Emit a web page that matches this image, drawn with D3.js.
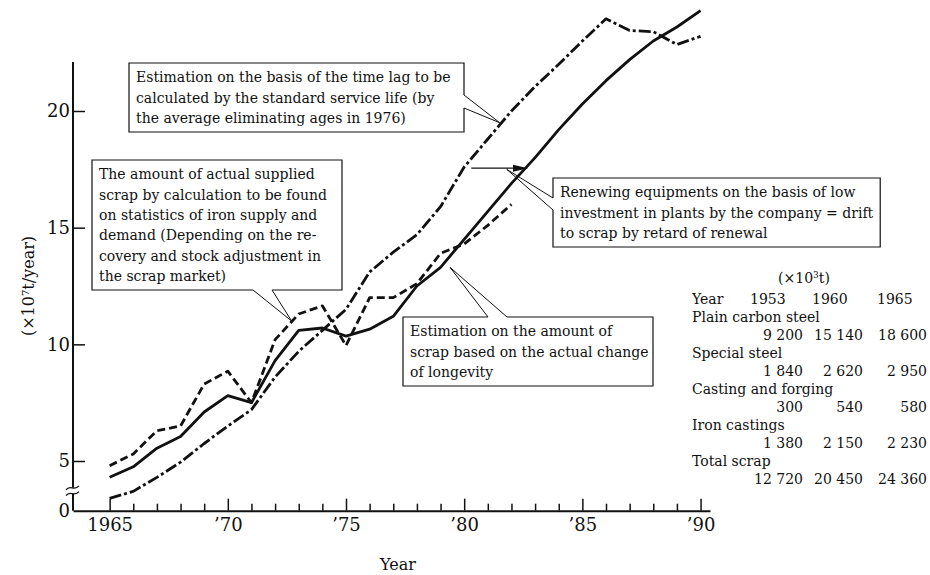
<!DOCTYPE html>
<html>
<head>
<meta charset="utf-8">
<script src="https://cdn.jsdelivr.net/npm/d3@7"></script>
<style>
  body { margin: 0; background: #fff; }
  svg { display: block; }
  text { font-family: "DejaVu Serif", serif; fill: #111; }
</style>
</head>
<body>
<svg id="chart" width="930" height="575"></svg>
<script>
document.addEventListener("DOMContentLoaded", function() {

    // Data (x 10^7 t / year)
    const years = [1965, 1966, 1967, 1968, 1969, 1970, 1971, 1972, 1973, 1974, 1975, 1976, 1977,
                   1978, 1979, 1980, 1981, 1982, 1983, 1984, 1985, 1986, 1987, 1988, 1989, 1990];
    // solid: actual change of longevity
    const longevity = [4.3, 4.75, 5.55, 6.05, 7.1, 7.8, 7.5, 9.3, 10.6, 10.7, 10.35, 10.65, 11.2,
                       12.5, 13.3, 14.5, 15.7, 16.9, 18.0, 19.2, 20.3, 21.3, 22.2, 23.0, 23.6, 24.3];
    // dash-dot: standard service life
    const serviceLife = [3.4, 3.7, 4.3, 4.95, 5.75, 6.5, 7.2, 8.6, 9.7, 10.6, 11.5, 13.1, 13.95,
                         14.7, 15.9, 17.6, 18.8, 20.0, 21.05, 22.0, 23.0, 23.95, 23.45, 23.4, 22.85, 23.2];
    // dashed: actual supplied scrap (1965-1982)
    const supplied = [4.8, 5.3, 6.3, 6.5, 8.3, 8.85, 7.5, 10.2, 11.3, 11.65, 9.95, 12.0, 12.0,
                      12.6, 13.9, 14.3, 15.1, 16.0];

    const yTicks = [5, 10, 15, 20];
    const xMajor = [1965, 1970, 1975, 1980, 1985, 1990];
    const xMajorLabels = ["1965", "\u201970", "\u201975", "\u201980", "\u201985", "\u201990"];

    const tableYears = ["1953", "1960", "1965"];
    const tableRows = ["Plain carbon steel", "Special steel", "Casting and forging", "Iron castings", "Total scrap"];
    const tableValues = [
        ["9 200", "15 140", "18 600"],
        ["1 840", "2 620", "2 950"],
        ["300", "540", "580"],
        ["1 380", "2 150", "2 230"],
        ["12 720", "20 450", "24 360"]
    ];

    // Display settings
    const yFloor = 2.87;          // value at the broken axis bottom ("0")
    const yTop = 22.1;
    const lineWidth = 2.8;
    const fontSize = 14;

    const svg = d3.select("#chart");

    ////////// Scales //////////
    const x = d3.scaleLinear().domain([1963.45, 1990.4]).range([73, 710]);
    const y = d3.scaleLinear().domain([yFloor, yTop]).range([510.7, 62]);

    ////////// Axes //////////
    const xAxis = d3.axisBottom(x)
        .tickValues(d3.range(1965, 1991))
        .tickSizeInner(-7)
        .tickSizeOuter(0)
        .tickPadding(8)
        .tickFormat(d => {
            const i = xMajor.indexOf(d);
            return i < 0 ? "" : xMajorLabels[i];
        });

    const gx = svg.append("g")
        .attr("transform", `translate(0,${y(yFloor)})`)
        .call(xAxis);
    gx.attr("font-family", null).attr("font-size", null);
    gx.select(".domain").attr("stroke-width", 2).attr("stroke", "#111");
    gx.selectAll(".tick line").attr("stroke", "#111").attr("stroke-width", 1.5);
    gx.selectAll(".tick line").filter(d => xMajor.includes(d)).attr("y2", -12);
    gx.selectAll(".tick text").style("font-size", "18px");

    const yAxis = d3.axisLeft(y)
        .tickValues([yFloor].concat(yTicks))
        .tickSizeInner(-12)
        .tickSizeOuter(0)
        .tickPadding(3)
        .tickFormat(d => d === yFloor ? "0" : d);

    const gy = svg.append("g")
        .attr("transform", `translate(${x(1963.45)},0)`)
        .call(yAxis);
    gy.attr("font-family", null).attr("font-size", null);
    gy.select(".domain").remove();
    gy.selectAll(".tick line").attr("stroke", "#111").attr("stroke-width", 1.5);
    gy.selectAll(".tick line").filter(d => d === yFloor).remove();
    gy.selectAll(".tick text").style("font-size", "18px");

    // y axis line with a break near the bottom
    const breakHi = 3.85, breakLo = 3.6;
    const ax = x(1963.45);
    [[yTop, breakHi], [breakLo, yFloor]].forEach(seg => {
        svg.append("line")
            .attr("x1", ax).attr("x2", ax)
            .attr("y1", y(seg[0])).attr("y2", y(seg[1]))
            .attr("stroke", "#111").attr("stroke-width", 2);
    });
    [breakHi, breakLo].forEach(v => {
        const yb = y(v);
        svg.append("path")
            .attr("d", `M${ax - 7},${yb + 2} C${ax - 3},${yb - 4} ${ax + 1},${yb + 4} ${ax + 6},${yb - 2}`)
            .attr("fill", "none").attr("stroke", "#111").attr("stroke-width", 1.3);
    });

    // Axis titles
    svg.append("text")
        .attr("transform", `translate(34,${y(12.5)}) rotate(-90)`)
        .attr("text-anchor", "middle")
        .style("font-size", "16px")
        .call(t => {
            t.append("tspan").text("(\u00d710");
            t.append("tspan").attr("baseline-shift", "super").style("font-size", "10px").text("7");
            t.append("tspan").text("t/year)");
        });

    svg.append("text")
        .attr("x", x(1977.2))
        .attr("y", 570)
        .attr("text-anchor", "middle")
        .style("font-size", "16px")
        .text("Year");

    ////////// Series //////////
    const line = d3.line().x(d => x(d[0])).y(d => y(d[1]));

    const series = [
        { values: supplied, dash: "8,4" },
        { values: serviceLife, dash: "12,3,3,3" },
        { values: longevity, dash: null }
    ];
    series.forEach(s => {
        svg.append("path")
            .datum(s.values.map((v, i) => [years[i], v]))
            .attr("fill", "none")
            .attr("stroke", "#111")
            .attr("stroke-width", lineWidth)
            .attr("stroke-linejoin", "round")
            .attr("stroke-dasharray", s.dash)
            .attr("d", line);
    });

    ////////// Annotations //////////
    const notes = [
        { lines: ["Estimation on the basis of the time lag to be",
                  "calculated by the standard service life (by",
                  "the average eliminating ages in 1976)"],
          box: [129, 63, 464, 132], side: "right", gap: [95, 108], tip: [1981.5, 19.5] },
        { lines: ["The amount of actual supplied",
                  "scrap by calculation to be found",
                  "on statistics of iron supply and",
                  "demand (Depending on the re-",
                  "covery and stock adjustment in",
                  "the scrap market)"],
          box: [92, 160, 342, 290], side: "bottom", gap: [253, 272], tip: [1972.7, 11.0] },
        { lines: ["Renewing equipments on the basis of low",
                  "investment in plants by the company = drift",
                  "to scrap by retard of renewal"],
          box: [553, 178, 0, 247], side: "left", gap: [198, 210], tip: [1981.8, 17.5] },
        { lines: ["Estimation on the amount of",
                  "scrap based on the actual change",
                  "of longevity"],
          box: [403, 317, 653, 386], side: "top", gap: [488, 507], tip: [1979.4, 13.3] }
    ];

    notes.forEach(n => {
        let [x0, y0, x1, y1] = n.box;
        const g = svg.append("g");
        const bg = g.append("rect").attr("fill", "#fff");
        const lh = (y1 - y0 - 8) / n.lines.length;
        const texts = n.lines.map((s, i) => g.append("text")
            .attr("x", x0 + 7)
            .attr("y", y0 + 4 + lh * (i + 0.5) + 5)
            .style("font-size", fontSize + "px")
            .text(s));
        if (!x1) {
            x1 = x0 + 14 + d3.max(texts, t => t.node().getComputedTextLength());
        }
        bg.attr("x", x0).attr("y", y0).attr("width", x1 - x0).attr("height", y1 - y0);

        const [g0, g1] = n.gap;
        let outline, a, b;
        if (n.side === "right") {
            outline = [[x1, g1], [x1, y1], [x0, y1], [x0, y0], [x1, y0], [x1, g0]];
            a = [x1, g0]; b = [x1, g1];
        } else if (n.side === "bottom") {
            outline = [[g0, y1], [x0, y1], [x0, y0], [x1, y0], [x1, y1], [g1, y1]];
            a = [g0, y1]; b = [g1, y1];
        } else if (n.side === "left") {
            outline = [[x0, g0], [x0, y0], [x1, y0], [x1, y1], [x0, y1], [x0, g1]];
            a = [x0, g0]; b = [x0, g1];
        } else {
            outline = [[g1, y0], [x1, y0], [x1, y1], [x0, y1], [x0, y0], [g0, y0]];
            a = [g0, y0]; b = [g1, y0];
        }
        const tip = [x(n.tip[0]), y(n.tip[1])];
        g.append("path")
            .attr("d", d3.line()(outline))
            .attr("fill", "none").attr("stroke", "#111").attr("stroke-width", 1.2);
        g.append("path")
            .attr("d", d3.line()([a, tip, b]))
            .attr("fill", "none").attr("stroke", "#111").attr("stroke-width", 1);
    });

    // Arrow for the renewal drift
    const arrowFrom = [1980.3, 17.55], arrowTo = [1982.7, 17.55];
    svg.append("line")
        .attr("x1", x(arrowFrom[0])).attr("y1", y(arrowFrom[1]))
        .attr("x2", x(arrowTo[0]) - 12).attr("y2", y(arrowTo[1]))
        .attr("stroke", "#111").attr("stroke-width", 1.2);
    svg.append("path")
        .attr("d", `M${x(arrowTo[0])},${y(arrowTo[1])} l-15,-3.5 l0,7 z`)
        .attr("fill", "#111");

    ////////// Table //////////
    const tx = 692, rowH = 18, ty0 = 304;
    const headerX = [750, 812, 877];
    const colRight = [803, 863, 927];

    svg.append("text")
        .attr("x", 804).attr("y", ty0 - 21)
        .attr("text-anchor", "middle")
        .style("font-size", fontSize + "px")
        .call(t => {
            t.append("tspan").text("(\u00d710");
            t.append("tspan").attr("baseline-shift", "super").style("font-size", "9px").text("3");
            t.append("tspan").text("t)");
        });

    svg.append("text").attr("x", tx).attr("y", ty0)
        .style("font-size", fontSize + "px").text("Year");
    tableYears.forEach((yr, j) => {
        svg.append("text").attr("x", headerX[j]).attr("y", ty0)
            .style("font-size", fontSize + "px").text(yr);
    });

    tableRows.forEach((name, i) => {
        const yy = ty0 + rowH * (1 + 2 * i);
        svg.append("text").attr("x", tx).attr("y", yy)
            .style("font-size", fontSize + "px").text(name);
        tableValues[i].forEach((v, j) => {
            svg.append("text").attr("x", colRight[j]).attr("y", yy + rowH)
                .attr("text-anchor", "end")
                .style("font-size", fontSize + "px").text(v);
        });
    });
});
</script>
</body>
</html>
